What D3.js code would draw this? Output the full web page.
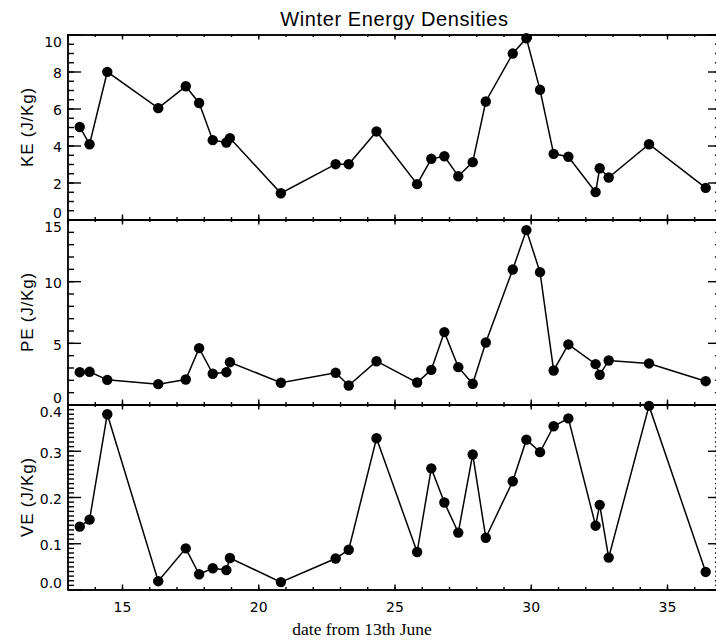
<!DOCTYPE html>
<html>
<head>
<meta charset="utf-8">
<script src="https://cdn.jsdelivr.net/npm/d3@7"></script>
<style>
  body { margin: 0; background: #fff; }
  svg { display: block; }
  .tick text { font-family: "DejaVu Sans", sans-serif; font-size: 14px; fill: #000; }
  .domain, .tick line { stroke: #000; stroke-width: 1.4; }
</style>
</head>
<body>
<div id="chart"></div>
<script>
// days since 13th June
var dates = [13.45, 13.81, 14.46, 16.33, 17.34, 17.83, 18.33, 18.83, 18.96, 20.83,
  22.84, 23.32, 24.34, 25.83, 26.35, 26.83, 27.34, 27.87, 28.35, 29.34,
  29.84, 30.34, 30.84, 31.38, 32.38, 32.53, 32.86, 34.34, 36.42]

var ke = [5.0, 4.07, 7.98, 6.02, 7.2, 6.3, 4.29, 4.16, 4.4, 1.42,
  2.99, 2.99, 4.76, 1.91, 3.28, 3.42, 2.34, 3.1, 6.38, 8.97,
  9.8, 7.01, 3.55, 3.39, 1.48, 2.77, 2.27, 4.07, 1.71]

var pe = [2.62, 2.65, 2.0, 1.65, 2.03, 4.57, 2.49, 2.62, 3.43, 1.76,
  2.57, 1.54, 3.51, 1.78, 2.81, 5.87, 3.03, 1.68, 5.03, 10.95,
  14.14, 10.73, 2.76, 4.87, 3.27, 2.41, 3.57, 3.33, 1.89]

var ve = [0.136, 0.151, 0.379, 0.018, 0.089, 0.033, 0.046, 0.042, 0.068, 0.016,
  0.067, 0.086, 0.327, 0.081, 0.262, 0.188, 0.123, 0.292, 0.112, 0.234,
  0.324, 0.297, 0.353, 0.370, 0.138, 0.183, 0.069, 0.397, 0.038]

var xTicks = [15, 20, 25, 30, 35]

var panels = [
  {values: ke, label: "KE (J/Kg)", domain: [0, 10], ticks: [0, 2, 4, 6, 8, 10], minor: 0.5, fmt: d3.format("d")},
  {values: pe, label: "PE (J/Kg)", domain: [0, 15], ticks: [0, 5, 10, 15], minor: 1, fmt: d3.format("d")},
  {values: ve, label: "VE (J/Kg)", domain: [0, 0.4], ticks: [0, 0.1, 0.2, 0.3, 0.4], minor: 0.01, fmt: d3.format(".1f")}
]

var W = 716, H = 644
var plotLeft = 67.5, plotRight = 721.5, plotTop = 34.5, panelH = 185

var svg = d3.select("#chart").append("svg")
  .attr("width", W)
  .attr("height", H)

var x = d3.scaleLinear().domain([13, 37]).range([plotLeft, plotRight])
var xMinor = d3.range(13, 38, 1)

svg.append("text")
  .attr("x", (plotLeft + plotRight) / 2)
  .attr("y", 26)
  .attr("text-anchor", "middle")
  .style("font-family", "Liberation Sans, Arial, sans-serif")
  .style("font-size", "20px")
  .style("letter-spacing", "0.6px")
  .text("Winter Energy Densities")

panels.forEach(function(p, i) {
  var y0 = plotTop + i * panelH, y1 = y0 + panelH
  var y = d3.scaleLinear().domain(p.domain).range([y1, y0])
  var last = i == panels.length - 1
  var yMinor = d3.range(0, Math.round((p.domain[1] - p.domain[0]) / p.minor) + 1)
    .map(function(k) { return p.domain[0] + k * p.minor })

  // top axis, ticks pointing down
  svg.append("g").attr("transform", "translate(0," + y0 + ")")
    .call(d3.axisBottom(x).tickValues(xMinor).tickSize(2.5).tickFormat(""))
  svg.append("g").attr("transform", "translate(0," + y0 + ")")
    .call(d3.axisBottom(x).tickValues(xTicks).tickSize(5).tickFormat(""))

  // bottom axis, ticks pointing up
  svg.append("g").attr("transform", "translate(0," + y1 + ")")
    .call(d3.axisBottom(x).tickValues(xMinor).tickSizeInner(-2.5).tickSizeOuter(0).tickFormat(""))
  svg.append("g").attr("transform", "translate(0," + y1 + ")")
    .call(d3.axisBottom(x).tickValues(xTicks).tickSizeInner(-5).tickSizeOuter(0).tickPadding(13)
      .tickFormat(last ? d3.format("d") : ""))

  // left axis
  svg.append("g").attr("transform", "translate(" + plotLeft + ",0)")
    .call(d3.axisLeft(y).tickValues(yMinor).tickSizeInner(-6.5).tickSizeOuter(0).tickFormat(""))
  var ly = svg.append("g").attr("transform", "translate(" + plotLeft + ",0)")
    .call(d3.axisLeft(y).tickValues(p.ticks).tickSizeInner(-13.5).tickSizeOuter(0).tickPadding(5.5).tickFormat(p.fmt))
  // end labels sit inside the panel, like the IDL original
  ly.selectAll(".tick text")
    .attr("dy", function(d, j) {
      if (j == 0) return "-0.12em"
      if (j == p.ticks.length - 1) return "0.88em"
      return "0.45em"
    })

  // right axis
  svg.append("g").attr("transform", "translate(" + plotRight + ",0)")
    .call(d3.axisLeft(y).tickValues(yMinor).tickSize(6.5).tickFormat(""))
  svg.append("g").attr("transform", "translate(" + plotRight + ",0)")
    .call(d3.axisLeft(y).tickValues(p.ticks).tickSize(13.5).tickFormat(""))

  svg.append("text")
    .attr("transform", "translate(33," + ((y0 + y1) / 2) + ") rotate(-90)")
    .attr("text-anchor", "middle")
    .style("font-family", "Liberation Sans, Arial, sans-serif")
    .style("font-size", "17px")
    .style("letter-spacing", "0.8px")
    .text(p.label)

  var line = d3.line()
    .x(function(d, j) { return x(dates[j]) })
    .y(function(d) { return y(d) })

  svg.append("path")
    .datum(p.values)
    .attr("fill", "none")
    .attr("stroke", "#000")
    .attr("stroke-width", 1.5)
    .attr("d", line)

  svg.append("g").selectAll("circle")
    .data(p.values)
    .join("circle")
    .attr("cx", function(d, j) { return x(dates[j]) })
    .attr("cy", function(d) { return y(d) })
    .attr("r", 5.2)
    .attr("fill", "#000")
})

svg.append("text")
  .attr("x", 362)
  .attr("y", 635)
  .attr("text-anchor", "middle")
  .style("font-family", "Liberation Serif, Times New Roman, serif")
  .style("font-size", "17.5px")
  .text("date from 13th June")
</script>
</body>
</html>
